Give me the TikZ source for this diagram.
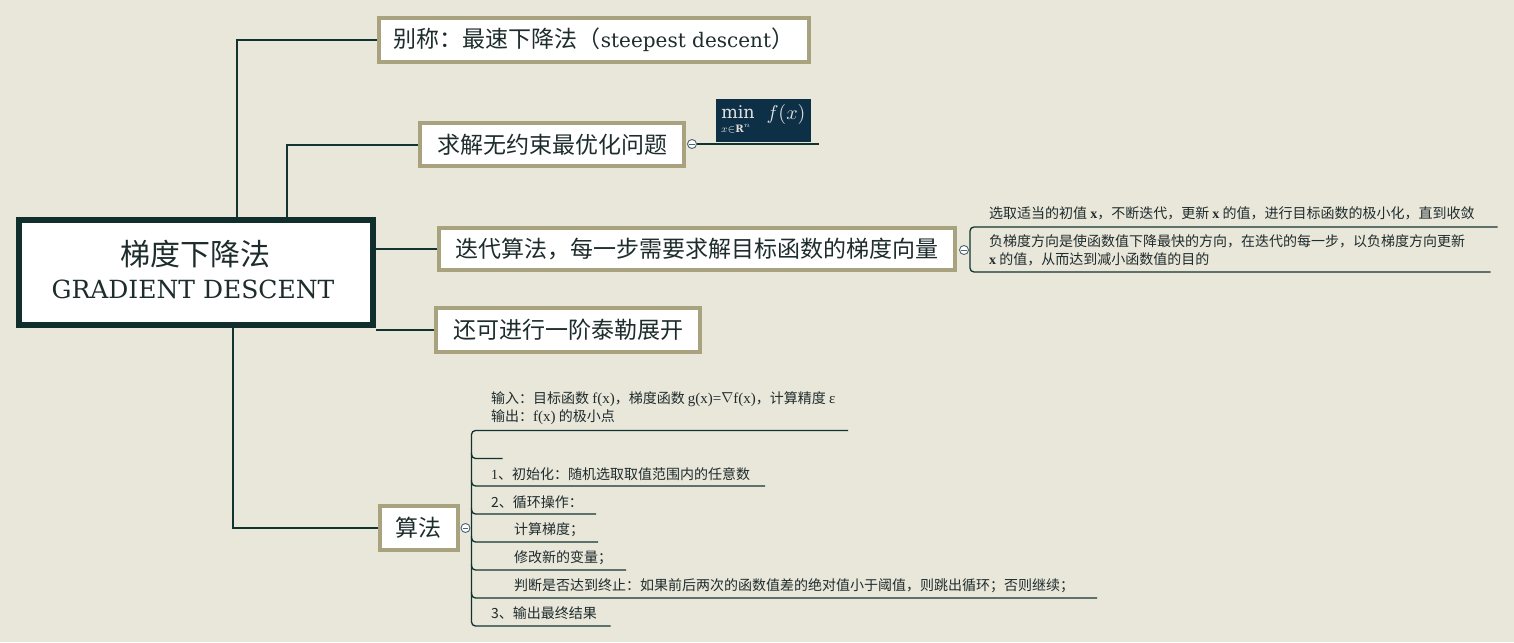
\documentclass[tikz,border=0pt]{standalone}
\usepackage{fontspec}
\setmainfont{DejaVu Serif}
\newfontfamily\cjk{Noto Sans CJK SC}
\newfontfamily\slab{DejaVu Serif}
\newfontfamily\tnr{Liberation Serif}
\newcommand\fsz[1]{\fontsize{#1}{#1}\selectfont}
\definecolor{bg}{HTML}{E9E6DA}
\definecolor{boxB}{HTML}{A8A27E}
\definecolor{mainB}{HTML}{0F2E2C}
\definecolor{lineC}{HTML}{123430}
\definecolor{txt}{HTML}{1E2C2C}
\definecolor{navy}{HTML}{0E3047}
\definecolor{dotC}{HTML}{4A6470}
\begin{document}
\begin{tikzpicture}[x=1pt,y=-1pt,
  conn/.style={draw=lineC, line width=2pt},
  brk/.style={draw=lineC, line width=1.3pt, rounded corners=4pt},
  topic/.style={draw=boxB, line width=4pt, fill=white, text=txt, inner sep=0pt, font=\cjk\fsz{23}},
  small/.style={anchor=west, inner sep=0pt, text=txt, font=\cjk\fsz{14}},
  dot/.style={circle, draw=dotC, fill=white, line width=0.9pt, minimum size=9pt, inner sep=0pt},
  minus/.style={draw=dotC, line width=0.7pt, shorten <=2pt, shorten >=2pt},
  ftxt/.style={inner sep=0pt, text=white!88!black}
]
\path[fill=bg] (0,0) rectangle (1514,642);
\useasboundingbox (0,0) rectangle (1514,642);

% central topic
\node[draw=mainB, line width=6pt, fill=white, minimum width=354pt, minimum height=105pt, inner sep=0pt] (main) at (196,272.5) {};
\node[text=txt, inner sep=0pt, font=\cjk\fsz{30}] (mt1) at (195,254) {梯度下降法};
\node[text=txt, inner sep=0pt, font=\slab\fsz{25}] (mt2) at (193,289) {GRADIENT DESCENT};

% main topics
\node[topic, minimum width=430pt, minimum height=44pt] (b1) at (594,40)
  {别称：最速下降法（{\slab\fsz{20}steepest descent}）};
\node[topic, minimum width=264pt, minimum height=43pt] (b2) at (552,144.5) {求解无约束最优化问题};
\node[topic, minimum width=516pt, minimum height=42pt] (b3) at (697,249) {迭代算法，每一步需要求解目标函数的梯度向量};
\node[topic, minimum width=264pt, minimum height=44pt] (b4) at (568,330) {还可进行一阶泰勒展开};
\node[topic, minimum width=78pt, minimum height=44pt] (b5) at (418.5,528) {算法};

% connectors
\draw[conn] ([xshift=41pt]main.north) |- (b1.west);
\draw[conn] ([xshift=91pt]main.north) |- (b2.west);
\draw[conn] (b3.west -| main.east) -- (b3.west);
\draw[conn] (b4.west -| main.east) -- (b4.west);
\draw[conn] ([xshift=37pt]main.south) |- (b5.west);

% box 2 child: formula
\node[dot] (d2) at (692,144) {};
\coordinate (f2end) at (819,144);
\draw[draw=lineC, line width=1.3pt] (d2.east) -- (f2end);
\draw[minus] (d2.west) -- (d2.east);
\node[fill=navy, minimum width=95pt, minimum height=43pt, inner sep=0pt] (fml) at (763.5,120) {};
\node[ftxt] (fmin) at (738,112.5) {\scalebox{1.75}{$\mathrm{min}$}};
\node[ftxt] (fsub) at (736,129) {\scalebox{1.45}{$\scriptstyle x\in\mathbf{R}^n$}};
\node[ftxt] (ffx) at (786,114) {\scalebox{2}{$f(x)$}};

% box 3 children
\coordinate (t3a) at (1497.5,227);
\coordinate (t3b) at (1490.5,272);
\coordinate (v3) at (970,249.5);
\draw[brk] (t3a) -- (v3 |- t3a) -- (v3 |- t3b) -- (t3b);
\node[dot] (d3) at (964,250) {};
\draw[minus] (d3.west) -- (d3.east);
\node[small] (c31) at (989,213.5) {选取适当的初值 {\tnr\bfseries x}，不断迭代，更新 {\tnr\bfseries x} 的值，进行目标函数的极小化，直到收敛};
\node[small] (c32) at (989,241.5) {负梯度方向是使函数值下降最快的方向，在迭代的每一步，以负梯度方向更新};
\node[small] (c33) at (989,259.5) {{\tnr\bfseries x} 的值，从而达到减小函数值的目的};

% algorithm children
\coordinate (v5) at (471.5,528);
\coordinate (l1) at (848,430.5);
\coordinate (l2) at (502.5,458.5);
\coordinate (l3) at (765,486);
\coordinate (l4) at (596,514);
\coordinate (l5) at (598,542);
\coordinate (l6) at (626,570);
\coordinate (l7) at (1097,598);
\coordinate (l8) at (610.5,626);
\draw[brk] (l1) -- (v5 |- l1) -- (v5 |- l8) -- (l8);
\foreach \p in {l2,l3,l4,l5,l6,l7} {
  \draw[brk] (\p) -- (v5 |- \p) -- ++(0,-6);
}
\node[dot] (d5) at (465.5,528) {};
\draw[minus] (d5.west) -- (d5.east);

\node[small] (a1) at (491,399) {输入：目标函数 {\tnr\fsz{15}f(x)}，梯度函数 {\tnr\fsz{15}g(x)=\raisebox{0.1ex}{$\nabla$}f(x)}，计算精度 {\tnr\fsz{15}ε}};
\node[small] (a2) at (491,417) {输出：{\tnr\fsz{15}f(x)} 的极小点};
\node[small] (a3) at (491,474) {{\tnr 1}、初始化：随机选取取值范围内的任意数};
\node[small] (a4) at (491,502) {2、循环操作：};
\node[small] (a5) at (514,530) {计算梯度；};
\node[small] (a6) at (514,558) {修改新的变量；};
\node[small] (a7) at (514,586) {判断是否达到终止：如果前后两次的函数值差的绝对值小于阈值，则跳出循环；否则继续；};
\node[small] (a8) at (491,613) {3、输出最终结果};
\end{tikzpicture}
\end{document}
